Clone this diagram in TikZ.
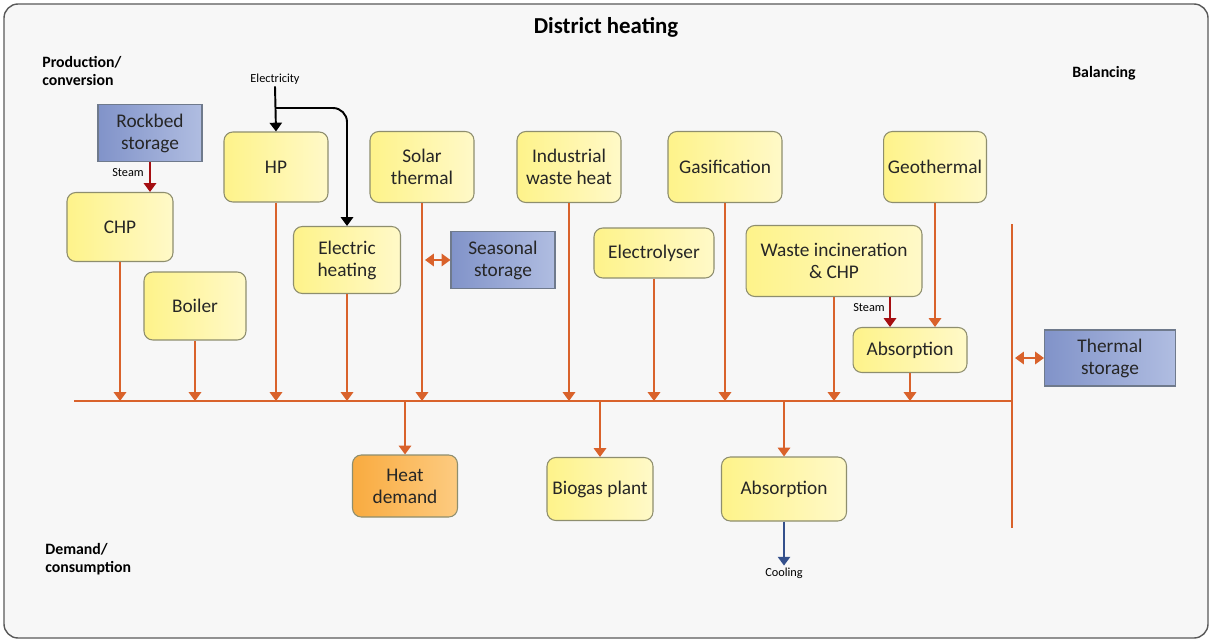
\documentclass[tikz,border=0pt]{standalone}
\usepackage{fontspec}
\setmainfont{Carlito}
\usetikzlibrary{arrows.meta}

\definecolor{heatline}{HTML}{D9622B}
\definecolor{steamline}{HTML}{A50F12}
\definecolor{coolline}{HTML}{34508C}
\definecolor{boxedge}{HTML}{8E8E6E}
\definecolor{yellowA}{HTML}{FEF38A}
\definecolor{yellowB}{HTML}{FFF9C8}
\definecolor{blueA}{HTML}{8193C9}
\definecolor{blueB}{HTML}{B0BDE1}
\definecolor{blueedge}{HTML}{6F7A8C}
\definecolor{orangeA}{HTML}{F9AB40}
\definecolor{orangeB}{HTML}{FDCB80}
\definecolor{panel}{HTML}{F7F7F7}

\begin{document}
\begin{tikzpicture}[x=0.02cm, y=-0.02cm,
    unit/.style={rectangle, rounded corners=5pt, draw=boxedge, line width=0.6pt,
      left color=yellowA, right color=yellowB, align=center, inner sep=1pt,
      text=black!85, font=\fontsize{11}{12.5}\selectfont},
    store/.style={rectangle, draw=blueedge, line width=0.6pt,
      left color=blueA, right color=blueB, align=center, inner sep=1pt,
      text=black!85, font=\fontsize{11}{12.5}\selectfont},
    demandbox/.style={unit, left color=orangeA, right color=orangeB},
    tag/.style={font=\fontsize{7}{8}\selectfont, inner sep=1pt},
    side/.style={font=\bfseries\fontsize{9}{10.5}\selectfont, align=left, inner sep=0pt},
    flow/.style={draw=heatline, line width=1.1pt, -{Triangle[width=7pt, length=5pt]}},
    both/.style={draw=heatline, line width=1.1pt, {Triangle[width=7pt, length=5pt]}-{Triangle[width=7pt, length=5pt]}},
    steam/.style={draw=steamline, line width=1.1pt, -{Triangle[width=7pt, length=5pt]}},
    power/.style={draw=black, line width=1.1pt, -{Triangle[width=7pt, length=5pt]}},
    cold/.style={draw=coolline, line width=1.1pt, -{Triangle[width=7pt, length=5pt]}}]

  %%% MARCO
  \useasboundingbox (0,0) rectangle (1212,642);
  \draw[fill=panel, draw=black!65, line width=0.8pt, rounded corners=8pt] (4,4) rectangle (1208,638);
  \node[font=\bfseries\fontsize{13}{15}\selectfont] (title) at (606,27) {District heating};
  \node[side, anchor=north west] (prod) at (42,56) {Production/\\conversion};
  \node[side, anchor=west] (bal) at (1072,73) {Balancing};
  \node[side, anchor=north west] (dem) at (45,543) {Demand/\\consumption};

  %%% PRODUCCION
  \node[store, minimum width=2.08cm, minimum height=1.14cm] (rock) at (150,133) {Rockbed\\storage};
  \node[unit, minimum width=2.12cm, minimum height=1.38cm] (chp) at (120,227) {CHP};
  \node[unit, minimum width=2.04cm, minimum height=1.36cm] (boiler) at (195,306) {Boiler};
  \node[unit, minimum width=2.08cm, minimum height=1.40cm] (hp) at (276,167) {HP};
  \node[unit, minimum width=2.14cm, minimum height=1.34cm] (eheat) at (347,260) {Electric\\heating};
  \node[unit, minimum width=2.08cm, minimum height=1.42cm] (solar) at (422,167) {Solar\\thermal};
  \node[store, minimum width=2.08cm, minimum height=1.14cm] (season) at (503,260) {Seasonal\\storage};
  \node[unit, minimum width=2.08cm, minimum height=1.42cm] (indus) at (569,167) {Industrial\\waste heat};
  \node[unit, minimum width=2.40cm, minimum height=1.00cm] (elys) at (654,253) {Electrolyser};
  \node[unit, minimum width=2.28cm, minimum height=1.42cm] (gasif) at (725,167) {Gasification};
  \node[unit, minimum width=3.52cm, minimum height=1.42cm] (waste) at (834,261) {Waste incineration\\\& CHP};
  \node[unit, minimum width=2.06cm, minimum height=1.42cm] (geo) at (935,167) {Geothermal};
  \node[unit, minimum width=2.28cm, minimum height=0.90cm] (absA) at (910,350) {Absorption};
  \node[store, minimum width=2.62cm, minimum height=1.12cm] (thermal) at (1110,358) {Thermal\\storage};

  %%% CONSUMO
  \node[demandbox, minimum width=2.10cm, minimum height=1.24cm] (demand) at (405,486) {Heat\\demand};
  \node[unit, minimum width=2.12cm, minimum height=1.26cm] (biogas) at (600,489) {Biogas plant};
  \node[unit, minimum width=2.50cm, minimum height=1.28cm] (absB) at (784,489) {Absorption};

  %%% ETIQUETAS
  \node[tag] (elec) at (275,79) {Electricity};
  \node[tag] (steamA) at (128,173) {Steam};
  \node[tag] (steamB) at (869,308) {Steam};
  \node[tag] (cool) at (784,573) {Cooling};

  %%% RED
  \coordinate (busW) at (74,401);
  \coordinate (busE) at (1012,401);
  \coordinate (balN) at (1012,224);
  \coordinate (balS) at (1012,528);
  \coordinate (split) at (275,108);
  \coordinate (wsteam) at (890,297);
  \draw[heatline, line width=1.1pt] (busW) -- (busE);
  \draw[heatline, line width=1.1pt] (balN) -- (balS);

  %%% CONEXIONES
  \foreach \n in {chp, boiler, hp, eheat, solar, indus, elys, gasif, waste, absA}
    \draw[flow] (\n.south) -- (\n.south |- busW);
  \foreach \n in {demand, biogas, absB}
    \draw[flow] (\n.north |- busW) -- (\n.north);
  \draw[both] (solar.south |- season.west) ++(3,0) -- (season.west);
  \draw[both] (balN |- thermal.west) ++(3,0) -- (thermal.west);
  \draw[flow] (geo.south) -- (geo.south |- absA.north);
  \draw[steam] (rock.south) -- (rock.south |- chp.north);
  \draw[steam] (wsteam) -- (wsteam |- absA.north);
  \draw[power] (elec.south) -- (hp.north);
  \draw[power, rounded corners=8pt] (split) -| (eheat.north);
  \draw[cold] (absB.south) -- (cool.north);
\end{tikzpicture}
\end{document}
